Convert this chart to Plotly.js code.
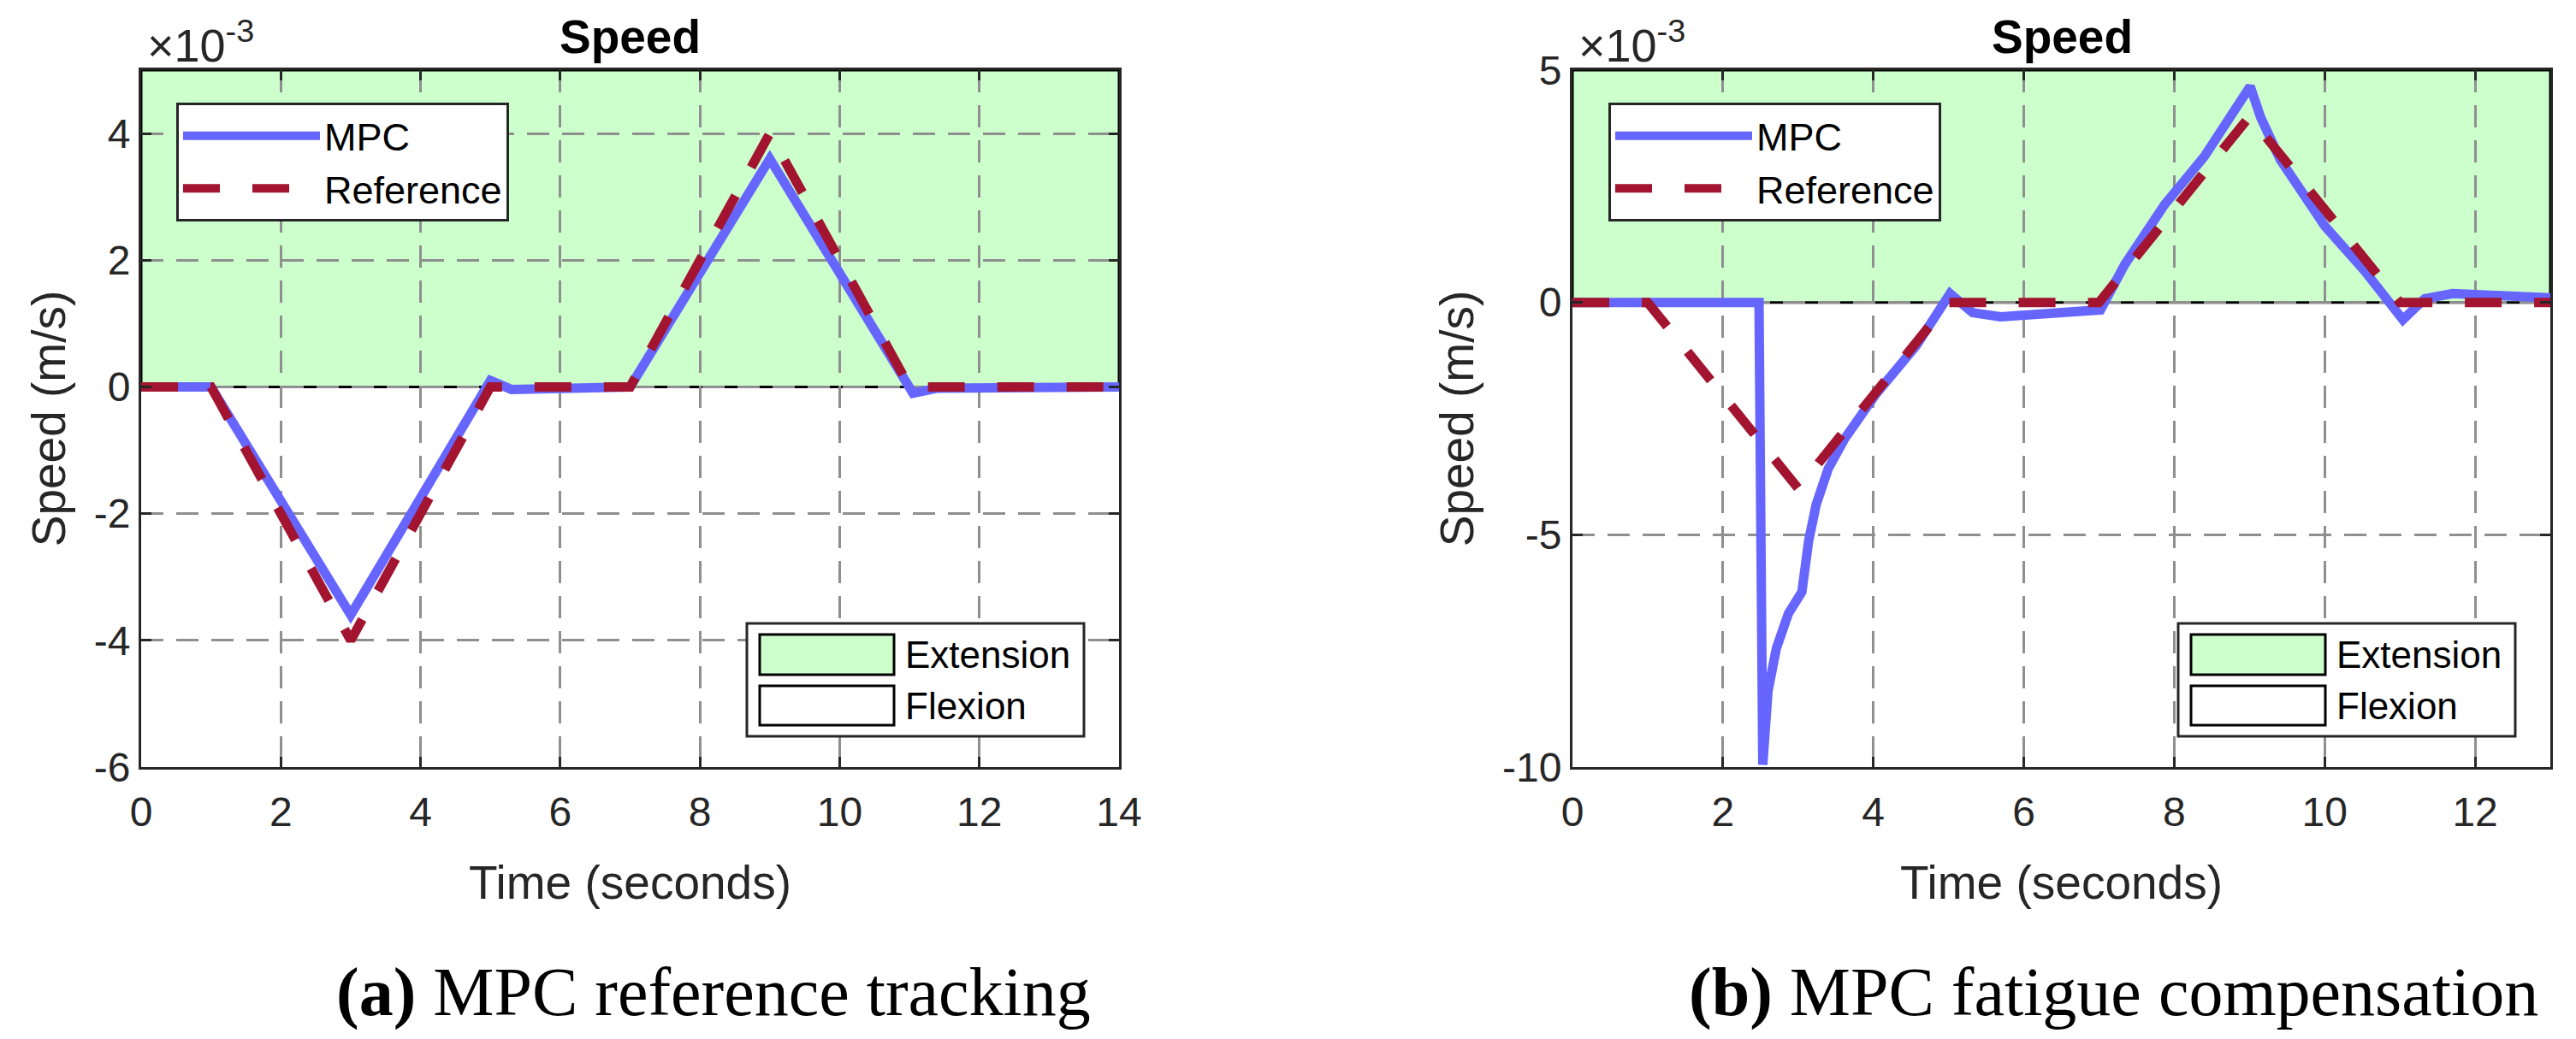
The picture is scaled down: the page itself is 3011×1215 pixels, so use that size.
<!DOCTYPE html>
<html>
<head>
<meta charset="utf-8">
<script src="https://cdn.plot.ly/plotly-3.0.1.min.js"></script>
<style>html,body{margin:0;padding:0;background:#fff}</style>
</head>
<body>
<div id="grafico" style="width:3011px;height:1215px"></div>
<script>
// (a) MPC reference tracking, valores em 10^-3 m/s
var tempoRefA = [0, 1, 3, 5, 7, 9, 11, 14];
var refA = [0, 0, -4, 0, 0, 4, 0, 0];
var tempoMpcA = [0, 1.0, 3.0, 5.0, 5.3, 6.0, 7.0, 9.0, 11.05, 11.4, 14];
var mpcA = [0, 0, -3.6, 0.1, -0.04, -0.02, 0, 3.6, -0.1, -0.02, 0];

// (b) MPC fatigue compensation
var tempoRefB = [0, 1, 3, 5, 7, 9, 11, 13];
var refB = [0, 0, -4, 0, 0, 4, 0, 0];
var tempoMpcB = [0, 2.48, 2.53, 2.6, 2.71, 2.87, 3.05, 3.14, 3.24, 3.4, 3.62, 4.04, 4.57, 5.02, 5.32, 5.69, 7.02, 7.34, 7.87, 8.4, 9.01, 9.15, 9.41, 10.0, 10.53, 11.04, 11.33, 11.7, 13];
var mpcB = [0, 0, -9.95, -8.36, -7.45, -6.7, -6.23, -5.13, -4.35, -3.58, -2.93, -1.96, -0.93, 0.19, -0.22, -0.31, -0.16, 0.81, 2.1, 3.14, 4.65, 3.98, 3.07, 1.65, 0.68, -0.37, 0.08, 0.19, 0.1];

var faixaXA = [0, 14], faixaYA = [-6, 5];
var faixaXB = [0, 13], faixaYB = [-10, 5];

// ticks
var ticksX = [0, 2, 4, 6, 8, 10, 12, 14];
var ticksYA = [-6, -4, -2, 0, 2, 4];
var textoYA = ['-6', '-4', '-2', '0', '2', '4'];
var ticksYB = [-10, -5, 0, 5];
var textoYB = ['-10', '-5', '0', '5'];

var nomes = ['MPC', 'Reference', 'Extension', 'Flexion'];
var titulos = ['Speed', 'Time (seconds)', 'Speed (m/s)'];
var legendas = ['<b>(a)</b> MPC reference tracking', '<b>(b)</b> MPC fatigue compensation'];

var azul = '#6666ff', vermelho = '#a2142f', verde = '#ccffcc', cinza = '#262626';
var fonte = 'Liberation Sans, Arial, sans-serif';
var W = 3011, H = 1215;

function px(x) { return x / W; }
function py(y) { return 1 - y / H; }

function linhas(t, y, tr, yr, xa, ya, leg) {
    return [{
        x: t, y: y, xaxis: xa, yaxis: ya, legend: leg,
        mode: 'lines', type: 'scatter', name: nomes[0],
        line: {color: azul, width: 11}
    }, {
        x: tr, y: yr, xaxis: xa, yaxis: ya, legend: leg,
        mode: 'lines', type: 'scatter', name: nomes[1],
        line: {color: vermelho, width: 11, dash: '43px,38px'}
    }];
}

var data = [].concat(
    linhas(tempoMpcA, mpcA, tempoRefA, refA, 'x', 'y', 'legend'),
    linhas(tempoMpcB, mpcB, tempoRefB, refB, 'x2', 'y2', 'legend2')
);

function eixo(faixa, dominio, titulo, anchor, vals, textos, standoff) {
    var e = {
        domain: dominio, range: faixa, anchor: anchor,
        tickmode: 'array', tickvals: vals,
        showline: true, mirror: 'ticks', linecolor: cinza, linewidth: 3,
        ticks: 'inside', ticklen: 12, tickwidth: 3, tickcolor: cinza,
        showgrid: true, gridcolor: '#8f8f8f', gridwidth: 3, griddash: '26px,15px',
        zeroline: false,
        tickfont: {family: fonte, size: 48, color: cinza},
        title: {text: titulo, font: {family: fonte, size: 55, color: cinza}, standoff: standoff}
    };
    if (textos) e.ticktext = textos;
    return e;
}

var yDom = [py(897), py(82)];

function legenda(x, y) {
    return {
        x: x, y: y, xanchor: 'left', yanchor: 'top',
        bgcolor: '#ffffff', bordercolor: cinza, borderwidth: 3,
        font: {family: fonte, size: 45, color: '#000'},
        itemwidth: 160
    };
}

function faixa(xa, ya, fx, fy) {
    return {
        type: 'rect', xref: xa, yref: ya, layer: 'below',
        x0: fx[0], x1: fx[1], y0: 0, y1: fy[1],
        fillcolor: verde, line: {color: '#000', width: 3}
    };
}

function texto(x, y, t, tam, opts) {
    var a = {
        xref: 'paper', yref: 'paper', x: x, y: y, text: t, showarrow: false,
        xanchor: 'center', yanchor: 'middle',
        font: {family: fonte, size: tam, color: '#000'}
    };
    return Object.assign(a, opts || {});
}

var shapes = [faixa('x', 'y', faixaXA, faixaYA), faixa('x2', 'y2', faixaXB, faixaYB)];
var annotations = [
    texto(px(736), py(43), '<b>' + titulos[0] + '</b>', 55),
    texto(px(2410), py(43), '<b>' + titulos[0] + '</b>', 55),
    texto(px(170), py(85), '\u00d710<sup>-3</sup>', 54, {xanchor: 'left', yanchor: 'bottom', font: {family: fonte, size: 54, color: cinza}}),
    texto(px(1843), py(85), '\u00d710<sup>-3</sup>', 54, {xanchor: 'left', yanchor: 'bottom', font: {family: fonte, size: 54, color: cinza}}),
    texto(px(834), py(1160), legendas[0], 80, {font: {family: 'Liberation Serif, Times New Roman, serif', size: 80, color: '#000'}}),
    texto(px(2470), py(1160), legendas[1], 80, {font: {family: 'Liberation Serif, Times New Roman, serif', size: 80, color: '#000'}})
];

// legenda das areas (Extension / Flexion), caixa desenhada a mao
function caixaAreas(esq, topo) {
    var larg = 394, alt = 132;
    shapes.push({
        type: 'rect', xref: 'paper', yref: 'paper',
        x0: px(esq), x1: px(esq + larg), y0: py(topo + alt), y1: py(topo),
        fillcolor: '#ffffff', line: {color: cinza, width: 3}
    });
    var cores = [verde, '#ffffff'];
    var linhasY = [[13, 60], [73, 119]];
    for (var i = 0; i < 2; i++) {
        shapes.push({
            type: 'rect', xref: 'paper', yref: 'paper',
            x0: px(esq + 15), x1: px(esq + 172),
            y0: py(topo + linhasY[i][1]), y1: py(topo + linhasY[i][0]),
            fillcolor: cores[i], line: {color: '#000', width: 3}
        });
        annotations.push(texto(px(esq + 183), py(topo + (linhasY[i][0] + linhasY[i][1]) / 2), nomes[2 + i], 44, {xanchor: 'left'}));
    }
}
caixaAreas(873, 729);
caixaAreas(2546, 729);

var layout = {
    width: W, height: H,
    margin: {l: 0, r: 0, t: 0, b: 0},
    paper_bgcolor: '#ffffff', plot_bgcolor: '#ffffff',
    xaxis: eixo(faixaXA, [px(165), px(1308)], titulos[1], 'y', ticksX, null, 38),
    yaxis: eixo(faixaYA, yDom, titulos[2], 'x', ticksYA, textoYA, 16),
    xaxis2: eixo(faixaXB, [px(1838), px(2981)], titulos[1], 'y2', ticksX.slice(0, 7), null, 38),
    yaxis2: eixo(faixaYB, yDom, titulos[2], 'x2', ticksYB, textoYB, 16),
    legend: legenda(px(206), py(120)),
    legend2: legenda(px(1880), py(120)),
    shapes: shapes,
    annotations: annotations
};
layout.xaxis.ticklabelstandoff = 8;
layout.xaxis2.ticklabelstandoff = 8;

Plotly.newPlot('grafico', data, layout, {displayModeBar: false, staticPlot: true});
</script>
</body>
</html>
